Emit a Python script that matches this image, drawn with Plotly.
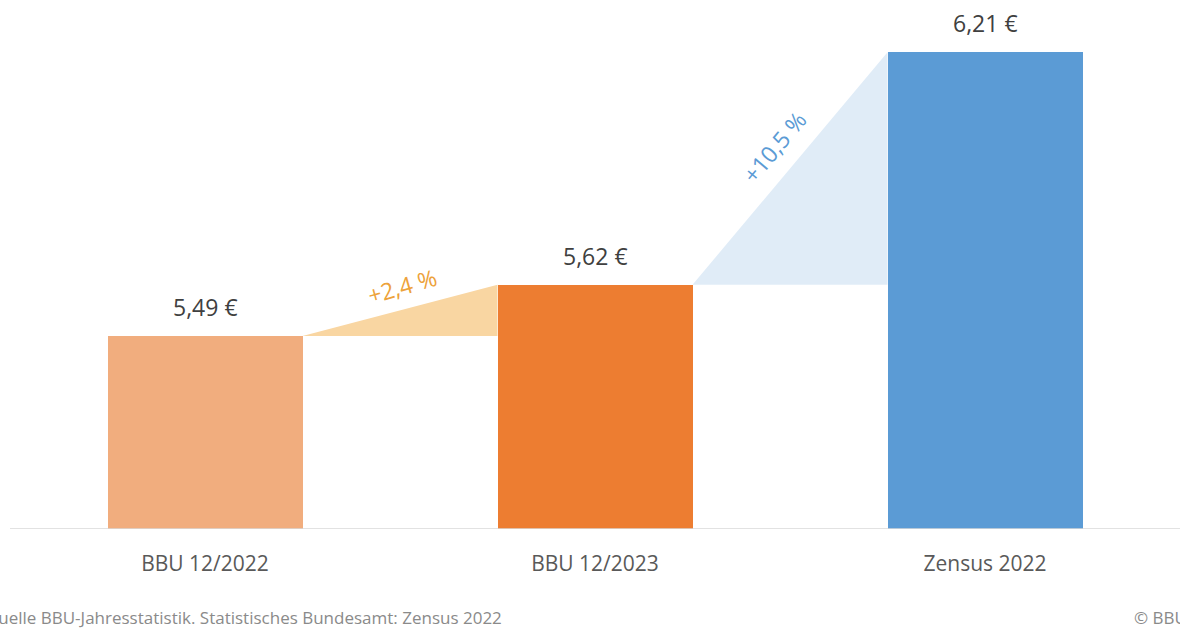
import plotly.graph_objects as go

categories = ["BBU 12/2022", "BBU 12/2023", "Zensus 2022"]
values = [5.49, 5.62, 6.21]
value_labels = ["5,49 €", "5,62 €", "6,21 €"]
change_labels = ["+2,4 %", "+10,5 %"]
bar_colors = ["#F1AD7E", "#ED7D31", "#5B9BD5"]
tri_colors = ["#F9D6A2", "#E0ECF7"]
change_colors = ["#EDA23A", "#5B9BD5"]
change_angles = [-16, -50]
source_text = "Quelle BBU-Jahresstatistik. Statistisches Bundesamt: Zensus 2022"
copyright_text = "© BBU"

FONT = "Open Sans"
half = 0.25
x = list(range(len(categories)))

fig = go.Figure()

# connecting triangles
for i in range(len(values) - 1):
    x0 = x[i] + half
    x1 = x[i + 1] - half
    fig.add_trace(go.Scatter(
        x=[x0, x1, x1, x0],
        y=[values[i], values[i + 1], values[i], values[i]],
        fill="toself", fillcolor=tri_colors[i], mode="lines",
        line=dict(width=0), hoverinfo="skip", showlegend=False))

fig.add_trace(go.Bar(
    x=x, y=values, width=2 * half, marker=dict(color=bar_colors, line=dict(width=0)),
    showlegend=False, hoverinfo="skip"))

for i, v in enumerate(values):
    fig.add_annotation(x=x[i], y=v, text=value_labels[i], showarrow=False,
                       yanchor="bottom", yshift=11,
                       font=dict(family=FONT, size=23, color="#404040"))

for i in range(len(values) - 1):
    xm = (x[i] + half + x[i + 1] - half) / 2
    ym = (values[i] + values[i + 1]) / 2
    if i == 0:
        xs, ys = 2, 24
    else:
        xs, ys = -16, 22
    fig.add_annotation(x=xm, y=ym, text=change_labels[i], showarrow=False,
                       textangle=change_angles[i], xshift=xs, yshift=ys,
                       font=dict(family=FONT, size=23, color=change_colors[i]))

fig.add_annotation(xref="paper", yref="paper", x=-0.023, y=-0.17, xanchor="left",
                   yanchor="middle", text=source_text, showarrow=False,
                   font=dict(family=FONT, size=17, color="#8A8A8A"))
fig.add_annotation(xref="paper", yref="paper", x=1.008, y=-0.17, xanchor="right",
                   yanchor="middle", text=copyright_text, showarrow=False,
                   font=dict(family=FONT, size=17, color="#8A8A8A"))

fig.update_layout(
    width=1180, height=630,
    margin=dict(l=10, r=0, t=9, b=101),
    plot_bgcolor="white", paper_bgcolor="white",
    bargap=0,
    xaxis=dict(range=[-0.5, 2.5], tickmode="array", tickvals=x, ticktext=categories,
               showgrid=False, zeroline=False, showline=False, ticks="",
               ticklabelstandoff=20,
               tickfont=dict(family=FONT, size=21, color="#595959")),
    yaxis=dict(range=[5.0, 6.32], visible=False, showgrid=False, zeroline=False),
    shapes=[dict(type="line", xref="paper", yref="y", x0=0, x1=1, y0=5.0, y1=5.0,
                 line=dict(color="#D9D9D9", width=1.5), layer="above")],
)

fig.write_html("out.html")
